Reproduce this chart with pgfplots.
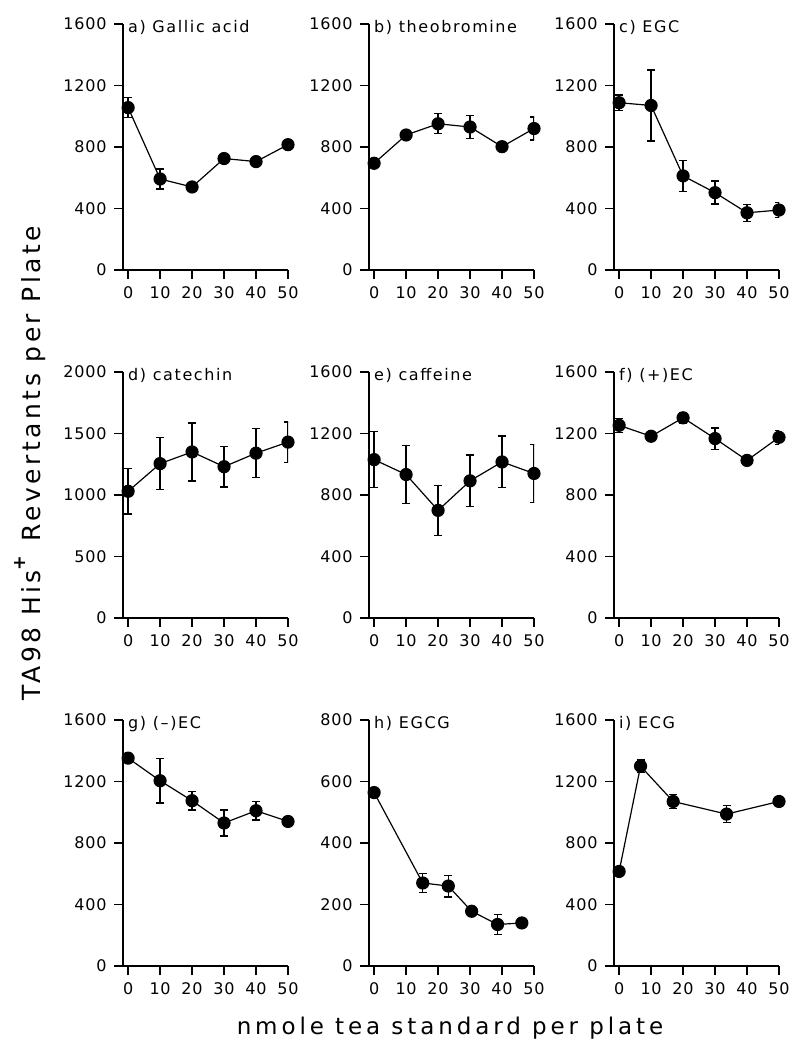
\documentclass[border=0pt]{standalone}
\usepackage{fontspec}
\setmainfont{DejaVu Sans}
\newfontfamily\tickfont{DejaVu Sans}[LetterSpace=5]
\newfontfamily\titlefont{DejaVu Sans}[LetterSpace=10]
\newfontfamily\ylabfont{DejaVu Sans}[LetterSpace=14]
\newfontfamily\xlabfont{DejaVu Sans}[LetterSpace=17]
\usepackage{pgfplots}
\pgfplotsset{compat=1.18}

\pgfplotsset{
  panel/.style={
    width=165pt, height=246pt, scale only axis,
    axis x line*=bottom, axis y line*=left,
    axis line style={line width=1.8pt},
    xmin=-1.6, xmax=50, ymin=0,
    xtick={0,10,...,50},
    tick align=outside, major tick length=9pt,
    tick style={line width=1.8pt, black},
    /pgf/number format/assume math mode=true,
    tick label style={font=\tickfont\fontsize{16}{18}\selectfont},
    scaled y ticks=false,
    yticklabel style={/pgf/number format/1000 sep={}, xshift=-4pt},
    xticklabel style={yshift=-4pt},
    title style={at={(0.03,1)}, anchor=north west, inner sep=0pt, yshift=-2pt,
                 font=\titlefont\fontsize{16}{18}\selectfont},
  },
  ser/.style={black, line width=1.2pt, mark=*, mark size=6pt,
    mark options={solid, fill=black},
    error bars/.cd, y dir=both, y explicit,
    error bar style={line width=1.4pt, black},
    error mark options={rotate=90, mark size=4pt, line width=1.4pt, black}},
}

\begin{document}
\begin{tikzpicture}
\useasboundingbox (0pt,0pt) rectangle (800pt,1054pt);

% row 1
\begin{axis}[panel, at={(123pt,784pt)}, anchor=south west, ymax=1600,
  ytick={0,400,...,1600}, title={a) Gallic acid}]
\addplot[ser] coordinates {(0,1056) +- (0,65) (10,592) +- (0,65) (20,540) +- (0,10)
  (30,725) +- (0,10) (40,705) +- (0,10) (50,815) +- (0,10)};
\end{axis}

\begin{axis}[panel, at={(369pt,784pt)}, anchor=south west, ymax=1600,
  ytick={0,400,...,1600}, title={b) theobromine}]
\addplot[ser] coordinates {(0,694) +- (0,10) (10,878) +- (0,15) (20,951) +- (0,65)
  (30,930) +- (0,75) (40,802) +- (0,10) (50,920) +- (0,75)};
\end{axis}

\begin{axis}[panel, at={(614pt,784pt)}, anchor=south west, ymax=1600,
  ytick={0,400,...,1600}, title={c) EGC}]
\addplot[ser] coordinates {(0,1088) +- (0,50) (10,1070) +- (0,230) (20,612) +- (0,100)
  (30,503) +- (0,75) (40,372) +- (0,55) (50,390) +- (0,50)};
\end{axis}

% row 2
\begin{axis}[panel, at={(123pt,436pt)}, anchor=south west, ymax=2000,
  ytick={0,500,...,2000}, title={d) catechin}]
\addplot[ser] coordinates {(0,1030) +- (0,185) (10,1255) +- (0,210) (20,1350) +- (0,235)
  (30,1230) +- (0,165) (40,1340) +- (0,200) (50,1430) +- (0,165)};
\end{axis}

\begin{axis}[panel, at={(369pt,436pt)}, anchor=south west, ymax=1600,
  ytick={0,400,...,1600}, title={e) caffeine}]
\addplot[ser] coordinates {(0,1030) +- (0,183) (10,933) +- (0,188) (20,700) +- (0,163)
  (30,892) +- (0,168) (40,1015) +- (0,168) (50,940) +- (0,190)};
\end{axis}

\begin{axis}[panel, at={(614pt,436pt)}, anchor=south west, ymax=1600,
  ytick={0,400,...,1600}, title={f) (+)EC}]
\addplot[ser] coordinates {(0,1253) +- (0,45) (10,1182) +- (0,20) (20,1302) +- (0,35)
  (30,1167) +- (0,70) (40,1025) +- (0,15) (50,1175) +- (0,45)};
\end{axis}

% row 3
\begin{axis}[panel, at={(123pt,88pt)}, anchor=south west, ymax=1600,
  ytick={0,400,...,1600}, title={g) (\textendash)EC}]
\addplot[ser] coordinates {(0,1352) +- (0,20) (10,1205) +- (0,145) (20,1075) +- (0,60)
  (30,930) +- (0,85) (40,1010) +- (0,60) (50,940) +- (0,15)};
\end{axis}

\begin{axis}[panel, at={(369pt,88pt)}, anchor=south west, ymax=800,
  ytick={0,200,...,800}, title={h) EGCG}]
\addplot[ser] coordinates {(0,564) +- (0,10) (15.2,270) +- (0,30) (23.2,260) +- (0,35)
  (30.5,178) +- (0,10) (38.6,135) +- (0,33) (46.2,140) +- (0,8)};
\end{axis}

\begin{axis}[panel, at={(614pt,88pt)}, anchor=south west, ymax=1600,
  ytick={0,400,...,1600}, title={i) ECG}]
\addplot[ser] coordinates {(0,615) +- (0,15) (6.7,1300) +- (0,40) (16.9,1070) +- (0,45)
  (33.6,988) +- (0,55) (50,1070) +- (0,15)};
\end{axis}

\node[rotate=90, font=\ylabfont\fontsize{25}{28}\selectfont] at (30pt,591pt)
  {TA98 His\raisebox{0.25em}{\textsuperscript{\textbf{+}}} Revertants per Plate};
\node[anchor=base, font=\xlabfont\fontsize{23}{26}\selectfont] at (450pt,19pt)
  {nmole tea standard per plate};
\end{tikzpicture}
\end{document}
